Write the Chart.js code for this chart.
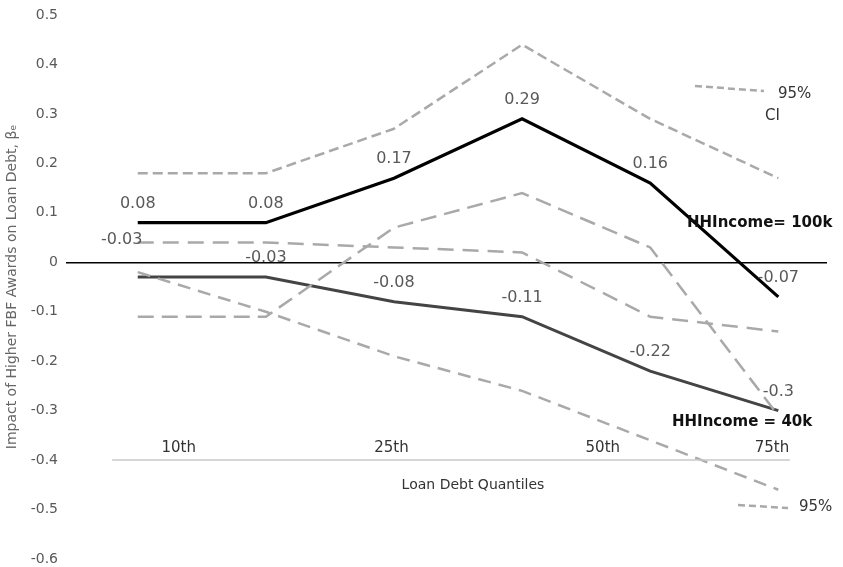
<!DOCTYPE html>
<html>
<head>
<meta charset="utf-8">
<script src="https://cdn.jsdelivr.net/npm/chart.js@4"></script>
<style>
  html, body { margin: 0; padding: 0; background: #fff; }
</style>
</head>
<body>
<canvas id="loanChart" width="843" height="567"></canvas>
<script>
// values
const pointIndex = [1, 2, 3, 4, 5, 6];
const income100k = [0.08, 0.08, 0.17, 0.29, 0.16, -0.07];
const income40k = [-0.03, -0.03, -0.08, -0.11, -0.22, -0.3];
const upper100k = [0.18, 0.18, 0.27, 0.44, 0.29, 0.17];
const lower100k = [-0.11, -0.11, 0.07, 0.14, 0.03, -0.31];
const upper40k = [0.04, 0.04, 0.03, 0.02, -0.11, -0.14];
const lower40k = [-0.02, -0.10, -0.19, -0.26, -0.36, -0.46];
const quantileLabels = ['10th', '25th', '50th', '75th'];
const quantileAt = [1.32, 2.98, 4.63, 5.95];
const baseAxis = { from: 0.8, to: 6.09, y: -0.4 };

const FONT = "'DejaVu Sans', sans-serif";

function toPoints(values) {
  return values.map((v, i) => ({ x: pointIndex[i], y: v }));
}

function dashed(label, values, dash) {
  return {
    label: label,
    data: toPoints(values),
    borderColor: '#a9a9a9',
    borderWidth: 2.5,
    borderDash: dash,
    pointRadius: 0,
    tension: 0,
    fill: false
  };
}

const overlay = {
  id: 'overlay',
  afterDatasetsDraw(chart) {
    const ctx = chart.ctx;
    const xs = chart.scales.x;
    const ys = chart.scales.y;
    ctx.save();

    // baseline with quantile labels
    ctx.strokeStyle = '#c8c8c8';
    ctx.lineWidth = 1.5;
    ctx.beginPath();
    ctx.moveTo(xs.getPixelForValue(baseAxis.from), ys.getPixelForValue(baseAxis.y));
    ctx.lineTo(xs.getPixelForValue(baseAxis.to), ys.getPixelForValue(baseAxis.y));
    ctx.stroke();

    ctx.fillStyle = '#333';
    ctx.font = '15px ' + FONT;
    ctx.textAlign = 'center';
    ctx.textBaseline = 'middle';
    quantileLabels.forEach((q, i) => {
      ctx.fillText(q, xs.getPixelForValue(quantileAt[i]), ys.getPixelForValue(baseAxis.y) - 12);
    });
    ctx.font = '14px ' + FONT;
    ctx.fillText('Loan Debt Quantiles', 473, 485);

    // value labels
    ctx.fillStyle = '#595959';
    ctx.font = '16px ' + FONT;
    chart.data.datasets.forEach((ds, di) => {
      if (!ds.showValues) return;
      chart.getDatasetMeta(di).data.forEach((pt, i) => {
        let dx = 0, dy = -19;
        if (i === 0 && ds.firstShift) { dx = ds.firstShift[0]; dy = ds.firstShift[1]; }
        ctx.fillText(String(ds.data[i].y), pt.x + dx, pt.y + dy);
      });
    });

    // series names
    ctx.fillStyle = '#111';
    ctx.font = 'bold 15px ' + FONT;
    ctx.textAlign = 'left';
    ctx.fillText('HHIncome= 100k', 687, 223);
    ctx.fillText('HHIncome = 40k', 672, 422);

    // CI keys
    ctx.strokeStyle = '#a9a9a9';
    ctx.lineWidth = 2.5;
    ctx.setLineDash([7, 4]);
    ctx.beginPath();
    ctx.moveTo(695, 86);
    ctx.lineTo(764, 91);
    ctx.moveTo(738, 505);
    ctx.lineTo(788, 508);
    ctx.stroke();
    ctx.setLineDash([]);
    ctx.fillStyle = '#333';
    ctx.font = '15px ' + FONT;
    ctx.fillText('95%', 778, 94);
    ctx.fillText('CI', 765, 116);
    ctx.fillText('95%', 799, 507);

    ctx.restore();
  }
};

const ctx = document.getElementById('loanChart').getContext('2d');

new Chart(ctx, {
  type: 'line',
  data: {
    datasets: [
      dashed('Upper 95% CI, 100k', upper100k, [10, 5]),
      dashed('Lower 95% CI, 100k', lower100k, [16, 8]),
      dashed('Upper 95% CI, 40k', upper40k, [16, 9]),
      dashed('Lower 95% CI, 40k', lower40k, [13, 8]),
      {
        label: 'HHIncome = 40k',
        data: toPoints(income40k),
        borderColor: '#444',
        borderWidth: 3,
        pointRadius: 0,
        tension: 0,
        showValues: true,
        firstShift: [-16, -37]
      },
      {
        label: 'HHIncome = 100k',
        data: toPoints(income100k),
        borderColor: '#000',
        borderWidth: 3.2,
        pointRadius: 0,
        tension: 0,
        showValues: true
      }
    ]
  },
  options: {
    responsive: false,
    animation: false,
    layout: {
      padding: { top: 15, right: 16, bottom: 8, left: 0 }
    },
    plugins: {
      legend: { display: false },
      tooltip: { enabled: false }
    },
    scales: {
      x: {
        type: 'linear',
        display: false,
        min: 0.44,
        max: 6.38
      },
      y: {
        min: -0.6,
        max: 0.5,
        border: { display: false },
        grid: {
          drawTicks: false,
          color: c => (c.tick && Math.abs(c.tick.value) < 1e-9 ? '#000' : 'rgba(0,0,0,0)'),
          lineWidth: 1.5
        },
        ticks: {
          stepSize: 0.1,
          padding: 8,
          color: '#595959',
          font: { family: FONT, size: 14 },
          callback: v => String(Math.round(v * 10) / 10)
        },
        title: {
          display: true,
          text: 'Impact of Higher FBF Awards on Loan Debt, βₑ',
          color: '#666',
          font: { family: FONT, size: 14 },
          padding: { top: 4, bottom: 0 }
        },
        afterFit: scale => {
          scale.width = 66;
          scale.paddingTop = 0;
          scale.paddingBottom = 0;
        }
      }
    }
  },
  plugins: [overlay]
});
</script>
</body>
</html>
